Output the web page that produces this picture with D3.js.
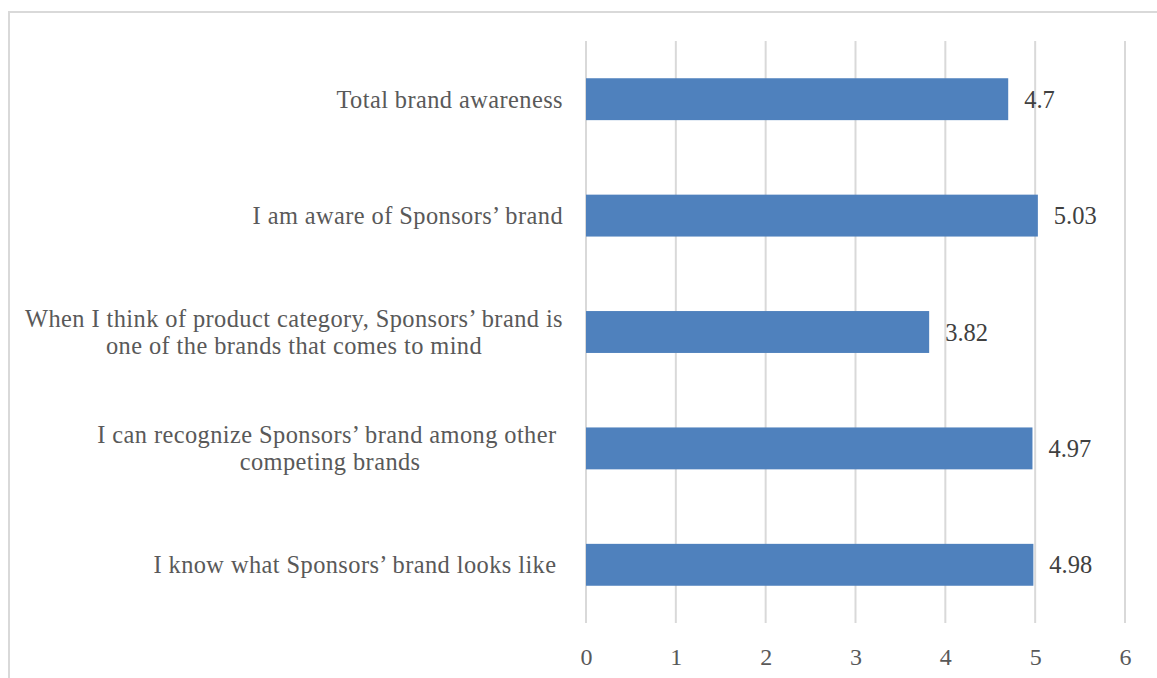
<!DOCTYPE html>
<html>
<head>
<meta charset="utf-8">
<script src="https://cdn.jsdelivr.net/npm/d3@7"></script>
<style>
  html, body { margin: 0; padding: 0; background: #fff; }
  svg { display: block; }
  text { font-family: "Liberation Serif", "Times New Roman", serif; white-space: pre; }
</style>
</head>
<body>
<svg id="chart" width="1157" height="678"></svg>
<script>
// Brand awareness items (top to bottom) with wrapped label lines
const categories = [
  ["Total brand awareness"],
  ["I am aware of Sponsors\u2019 brand"],
  ["When I think of product category, Sponsors\u2019 brand is", "one of the brands that comes to mind"],
  ["I can recognize Sponsors\u2019 brand among other ", "competing brands"],
  ["I know what Sponsors\u2019 brand looks like "]
];
const values = [4.7, 5.03, 3.82, 4.97, 4.98];
const xTicks = [0, 1, 2, 3, 4, 5, 6];

const svg = d3.select("#chart");

// outer chart frame
svg.append("rect")
  .attr("x", 9).attr("y", 12)
  .attr("width", 1170).attr("height", 690)
  .attr("fill", "none")
  .attr("stroke", "#d9d9d9")
  .attr("stroke-width", 2);

const plot = { left: 586, right: 1125, top: 41, bottom: 623 };

const x = d3.scaleLinear().domain([0, 6]).range([plot.left, plot.right]);
const y = d3.scaleBand()
  .domain(d3.range(categories.length))
  .range([plot.top, plot.bottom])
  .paddingInner(0.64)
  .paddingOuter(0.32);

// vertical gridlines
svg.append("g")
  .selectAll("line")
  .data(xTicks)
  .join("line")
  .attr("x1", d => x(d)).attr("x2", d => x(d))
  .attr("y1", plot.top).attr("y2", plot.bottom)
  .attr("stroke", "#d9d9d9")
  .attr("stroke-width", 2);

// x axis tick labels
const xAxis = d3.axisBottom(x).tickValues(xTicks).tickSize(0).tickPadding(0).tickFormat(d3.format("d"));
const gx = svg.append("g")
  .attr("transform", `translate(0, ${plot.bottom + 34})`)
  .call(xAxis);
gx.select(".domain").remove();
gx.selectAll("text")
  .attr("dy", "0.35em")
  .attr("fill", "#595959")
  .style("font-size", "24px")
  .style("font-family", "\"Liberation Serif\", serif");

// bars
svg.append("g")
  .selectAll("rect")
  .data(values)
  .join("rect")
  .attr("x", x(0))
  .attr("y", (d, i) => y(i))
  .attr("width", d => x(d) - x(0))
  .attr("height", y.bandwidth())
  .attr("fill", "#4f81bd");

// value labels
svg.append("g")
  .selectAll("text")
  .data(values)
  .join("text")
  .attr("x", d => x(d) + 16)
  .attr("y", (d, i) => y(i) + y.bandwidth() / 2)
  .attr("dy", "0.35em")
  .attr("fill", "#404040")
  .style("font-size", "24.5px")
  .text(d => d);

// category labels, wrapped lines centred as a block ending left of the axis
const lineH = 27;
const labelRight = plot.left - 23;
const lg = svg.append("g");
categories.forEach((lines, i) => {
  const cy = y(i) + y.bandwidth() / 2;
  const t = lg.append("text")
    .attr("fill", "#595959")
    .style("font-size", "24.4px")
    .style("letter-spacing", "0.42px");
  const spans = lines.map((s, k) => t.append("tspan")
    .attr("y", cy + (k - (lines.length - 1) / 2) * lineH)
    .attr("dy", "0.35em")
    .attr("text-anchor", "middle")
    .text(s));
  const widths = spans.map(s => s.node().getComputedTextLength());
  const maxW = d3.max(widths);
  spans.forEach(s => s.attr("x", labelRight - maxW / 2));
});
</script>
</body>
</html>
